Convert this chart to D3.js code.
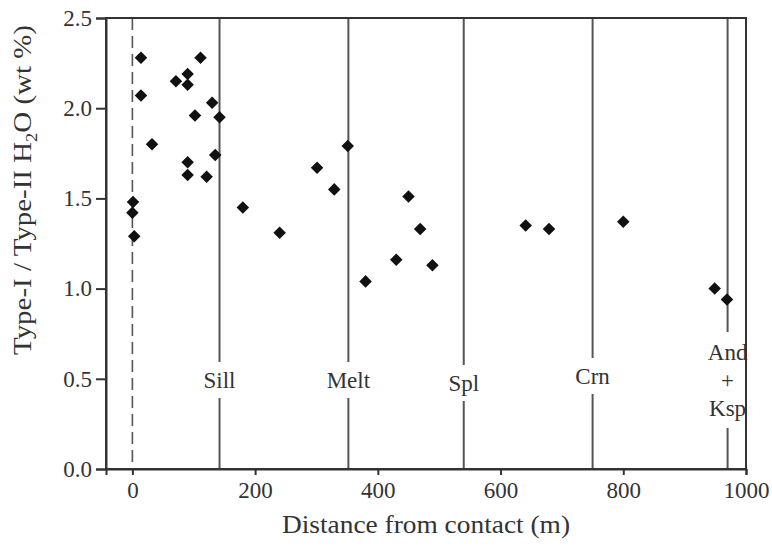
<!DOCTYPE html>
<html>
<head>
<meta charset="utf-8">
<script src="https://cdn.jsdelivr.net/npm/d3@7"></script>
<style>
  body { margin: 0; background: #fff; }
  text { font-family: "Liberation Serif", "DejaVu Serif", serif; fill: #333; }
</style>
</head>
<body>
<div id="chart"></div>
<script>
// distance from contact (m) and ratio
var distance = [14, 111, 90, 71, 90, 14, 130, 102, 142, 32, 135, 90, 90, 121,
                301, 329, 351, 1, 0, 3, 180, 240, 380, 450, 469, 430, 489,
                641, 679, 800, 949, 969];
var ratio = [2.28, 2.28, 2.19, 2.15, 2.13, 2.07, 2.03, 1.96, 1.95, 1.80, 1.74, 1.70, 1.63, 1.62,
             1.67, 1.55, 1.79, 1.48, 1.42, 1.29, 1.45, 1.31, 1.04, 1.51, 1.33, 1.16, 1.13,
             1.35, 1.33, 1.37, 1.00, 0.94];

// mineral-in isograds
var isogradNames = ["Sill", "Melt", "Spl", "Crn", "And|+|Ksp"];
var isogradDist = [142, 352, 540, 750, 970];

var xTicks = [0, 200, 400, 600, 800, 1000];
var yTicks = [0.0, 0.5, 1.0, 1.5, 2.0, 2.5];

var width = 772, height = 548;
var margin = {top: 18, right: 26, bottom: 79, left: 106};

var svg = d3.select("#chart").append("svg")
    .attr("width", width)
    .attr("height", height);

var x = d3.scaleLinear().domain([-43, 1000]).range([margin.left, width - margin.right]);
var y = d3.scaleLinear().domain([0, 2.5]).range([height - margin.bottom, margin.top]);

var axisColor = "#333";
var fs = 23;

// label centre height (px) for each isograd, hand placed
var labelY = [380, 380, 383, 376, 380];

// isograd lines, broken where the label sits
isogradDist.forEach(function (d, i) {
    var lines = isogradNames[i].split("|");
    var half = lines.length > 1 ? 48 : 18;
    var segs = [[y(2.5), labelY[i] - half], [labelY[i] + half, y(0)]];
    segs.forEach(function (s) {
        svg.append("line")
            .attr("x1", x(d)).attr("x2", x(d))
            .attr("y1", s[0]).attr("y2", s[1])
            .attr("stroke", "#555")
            .attr("stroke-width", 2);
    });
    var t = svg.append("text")
        .attr("text-anchor", "middle")
        .attr("font-size", fs);
    lines.forEach(function (l, j) {
        t.append("tspan")
            .attr("x", x(d))
            .attr("y", labelY[i] + 8 + (j - (lines.length - 1) / 2) * 28)
            .text(l);
    });
});

// contact (dashed)
svg.append("line")
    .attr("x1", x(0)).attr("x2", x(0))
    .attr("y1", y(2.5)).attr("y2", y(0))
    .attr("stroke", "#555")
    .attr("stroke-width", 1.6)
    .attr("stroke-dasharray", "12,6");

// frame
svg.append("rect")
    .attr("x", x(-43)).attr("y", y(2.5))
    .attr("width", x(1000) - x(-43))
    .attr("height", y(0) - y(2.5))
    .attr("fill", "none")
    .attr("stroke", axisColor)
    .attr("stroke-width", 2);

// axes
var xAxis = svg.append("g")
    .attr("transform", "translate(0," + y(0) + ")")
    .call(d3.axisBottom(x).tickValues(xTicks).tickSize(6).tickPadding(7).tickFormat(d3.format("d")));

var yAxis = svg.append("g")
    .attr("transform", "translate(" + x(-43) + ",0)")
    .call(d3.axisLeft(y).tickValues(yTicks).tickSize(10).tickPadding(4).tickFormat(d3.format(".1f")));

[xAxis, yAxis].forEach(function (a) {
    a.select(".domain").attr("stroke", axisColor).attr("stroke-width", 2);
    a.selectAll(".tick line").attr("stroke", axisColor).attr("stroke-width", 2);
    a.selectAll(".tick text")
        .attr("font-size", fs)
        .attr("font-family", "Liberation Serif, serif")
        .attr("fill", "#333");
});

// data points
var diamond = d3.symbol().type(d3.symbolDiamond2).size(100);
svg.selectAll(".pt")
    .data(distance)
    .enter().append("path")
    .attr("class", "pt")
    .attr("d", diamond)
    .attr("transform", function (d, i) { return "translate(" + x(d) + "," + y(ratio[i]) + ")"; })
    .attr("fill", "#111");

// axis titles
svg.append("text")
    .attr("x", (x(-43) + x(1000)) / 2)
    .attr("y", 533)
    .attr("text-anchor", "middle")
    .attr("font-size", 25)
    .attr("textLength", 288)
    .attr("lengthAdjust", "spacingAndGlyphs")
    .text("Distance from contact (m)");

var yt = svg.append("text")
    .attr("transform", "translate(31,190) rotate(-90)")
    .attr("text-anchor", "middle")
    .attr("font-size", 25)
    .attr("textLength", 330)
    .attr("lengthAdjust", "spacingAndGlyphs");
yt.append("tspan").text("Type-I / Type-II H");
yt.append("tspan").attr("font-size", 16).attr("dy", 6).text("2");
yt.append("tspan").attr("dy", -6).text("O (wt %)");
</script>
</body>
</html>
